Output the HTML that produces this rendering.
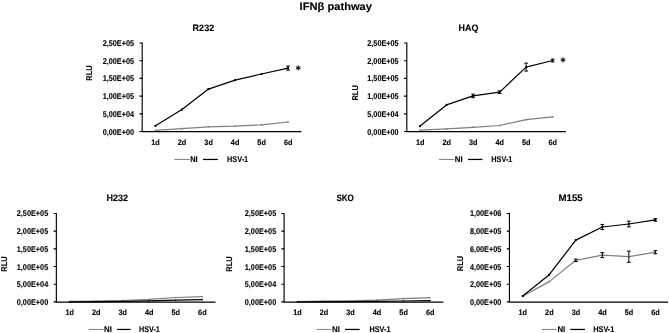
<!DOCTYPE html>
<html><head><meta charset="utf-8"><title>IFNβ pathway</title>
<style>html,body{margin:0;padding:0;background:#fff;overflow:hidden}svg{display:block}text{font-family:"Liberation Sans",sans-serif;stroke:#000;stroke-width:.12px;text-rendering:geometricPrecision}</style>
</head><body>
<svg width="669" height="333" viewBox="0 0 669 333" font-family="Liberation Sans, sans-serif" font-weight="bold" fill="#000">
<path d="M142.2 42.45V131.55" fill="none" stroke="#000" stroke-width="1.15"/>
<path d="M141.63 131.55H301.30" fill="none" stroke="#000" stroke-width="1.15"/>
<text x="134.05" y="46.0" font-size="8.4" text-anchor="end" textLength="31.4" lengthAdjust="spacingAndGlyphs">2,50E+05</text>
<text x="134.05" y="63.71" font-size="8.4" text-anchor="end" textLength="31.4" lengthAdjust="spacingAndGlyphs">2,00E+05</text>
<text x="134.05" y="81.42" font-size="8.4" text-anchor="end" textLength="31.4" lengthAdjust="spacingAndGlyphs">1,50E+05</text>
<text x="134.05" y="99.13" font-size="8.4" text-anchor="end" textLength="31.4" lengthAdjust="spacingAndGlyphs">1,00E+05</text>
<text x="134.05" y="116.84" font-size="8.4" text-anchor="end" textLength="31.4" lengthAdjust="spacingAndGlyphs">5,00E+04</text>
<text x="134.05" y="134.55" font-size="8.4" text-anchor="end" textLength="31.4" lengthAdjust="spacingAndGlyphs">0,00E+00</text>
<path d="M139.45 43.00H142.2M139.45 60.71H142.2M139.45 78.42H142.2M139.45 96.13H142.2M139.45 113.84H142.2M139.45 131.55H142.2" stroke="#000" stroke-width="1.1"/>
<text x="203.4" y="30.5" font-size="9.3" text-anchor="middle" textLength="21.6" lengthAdjust="spacingAndGlyphs">R232</text>
<text transform="translate(92.3,73) rotate(-90)" font-size="8.4" text-anchor="middle" textLength="15.4" lengthAdjust="spacingAndGlyphs">RLU</text>
<text x="155.56" y="145" font-size="7.9" text-anchor="middle" textLength="8.5" lengthAdjust="spacingAndGlyphs">1d</text>
<text x="182.07" y="145" font-size="7.9" text-anchor="middle" textLength="8.5" lengthAdjust="spacingAndGlyphs">2d</text>
<text x="208.59" y="145" font-size="7.9" text-anchor="middle" textLength="8.5" lengthAdjust="spacingAndGlyphs">3d</text>
<text x="235.11" y="145" font-size="7.9" text-anchor="middle" textLength="8.5" lengthAdjust="spacingAndGlyphs">4d</text>
<text x="261.62" y="145" font-size="7.9" text-anchor="middle" textLength="8.5" lengthAdjust="spacingAndGlyphs">5d</text>
<text x="288.14" y="145" font-size="7.9" text-anchor="middle" textLength="8.5" lengthAdjust="spacingAndGlyphs">6d</text>
<polyline points="155.46,130.40 181.97,128.60 208.49,126.80 235.01,126.10 261.52,124.80 288.04,122.00" fill="none" stroke="#7f7f7f" stroke-width="1.2" stroke-linejoin="round"/>
<rect x="154.66" y="129.60" width="1.6" height="1.6" fill="#7f7f7f"/>
<rect x="181.17" y="127.80" width="1.6" height="1.6" fill="#7f7f7f"/>
<rect x="207.69" y="126.00" width="1.6" height="1.6" fill="#7f7f7f"/>
<rect x="234.21" y="125.30" width="1.6" height="1.6" fill="#7f7f7f"/>
<rect x="260.72" y="124.00" width="1.6" height="1.6" fill="#7f7f7f"/>
<rect x="287.24" y="121.20" width="1.6" height="1.6" fill="#7f7f7f"/>
<polyline points="155.46,125.80 181.97,109.50 208.49,89.05 235.01,80.10 261.52,74.00 288.04,68.10" fill="none" stroke="#000" stroke-width="1.25" stroke-linejoin="round"/>
<rect x="154.46" y="124.80" width="2.0" height="2.0" fill="#000"/>
<rect x="180.97" y="108.50" width="2.0" height="2.0" fill="#000"/>
<rect x="207.49" y="88.05" width="2.0" height="2.0" fill="#000"/>
<rect x="234.01" y="79.10" width="2.0" height="2.0" fill="#000"/>
<rect x="260.52" y="73.00" width="2.0" height="2.0" fill="#000"/>
<rect x="287.04" y="67.10" width="2.0" height="2.0" fill="#000"/>
<path d="M288.04 66.05V70.15M286.14 66.05h3.8M286.14 70.15h3.8" stroke="#000" stroke-width="1" fill="none"/>
<text x="298.3" y="72.9" font-size="10" text-anchor="middle" style="font-family:'DejaVu Sans',sans-serif;stroke-width:.4px;font-weight:normal">*</text>
<path d="M174.5 159.45H189.7" stroke="#7f7f7f" stroke-width="1"/>
<path d="M202.9 159.45H217.8" stroke="#000" stroke-width="1.25"/>
<text x="190.25" y="162" font-size="8.3" text-anchor="start" textLength="7.4" lengthAdjust="spacingAndGlyphs">NI</text>
<text x="227.0" y="162" font-size="8.3" text-anchor="start" textLength="21.2" lengthAdjust="spacingAndGlyphs">HSV-1</text>
<path d="M406.8 42.45V131.55" fill="none" stroke="#000" stroke-width="1.15"/>
<path d="M406.23 131.55H565.90" fill="none" stroke="#000" stroke-width="1.15"/>
<text x="398.65" y="46.0" font-size="8.4" text-anchor="end" textLength="31.4" lengthAdjust="spacingAndGlyphs">2,50E+05</text>
<text x="398.65" y="63.71" font-size="8.4" text-anchor="end" textLength="31.4" lengthAdjust="spacingAndGlyphs">2,00E+05</text>
<text x="398.65" y="81.42" font-size="8.4" text-anchor="end" textLength="31.4" lengthAdjust="spacingAndGlyphs">1,50E+05</text>
<text x="398.65" y="99.13" font-size="8.4" text-anchor="end" textLength="31.4" lengthAdjust="spacingAndGlyphs">1,00E+05</text>
<text x="398.65" y="116.84" font-size="8.4" text-anchor="end" textLength="31.4" lengthAdjust="spacingAndGlyphs">5,00E+04</text>
<text x="398.65" y="134.55" font-size="8.4" text-anchor="end" textLength="31.4" lengthAdjust="spacingAndGlyphs">0,00E+00</text>
<path d="M404.05 43.00H406.8M404.05 60.71H406.8M404.05 78.42H406.8M404.05 96.13H406.8M404.05 113.84H406.8M404.05 131.55H406.8" stroke="#000" stroke-width="1.1"/>
<text x="468.5" y="30.5" font-size="9.3" text-anchor="middle" textLength="19.8" lengthAdjust="spacingAndGlyphs">HAQ</text>
<text transform="translate(357.5,92.9) rotate(-90)" font-size="8.4" text-anchor="middle" textLength="15.4" lengthAdjust="spacingAndGlyphs">RLU</text>
<text x="420.16" y="145" font-size="7.9" text-anchor="middle" textLength="8.5" lengthAdjust="spacingAndGlyphs">1d</text>
<text x="446.68" y="145" font-size="7.9" text-anchor="middle" textLength="8.5" lengthAdjust="spacingAndGlyphs">2d</text>
<text x="473.19" y="145" font-size="7.9" text-anchor="middle" textLength="8.5" lengthAdjust="spacingAndGlyphs">3d</text>
<text x="499.71" y="145" font-size="7.9" text-anchor="middle" textLength="8.5" lengthAdjust="spacingAndGlyphs">4d</text>
<text x="526.23" y="145" font-size="7.9" text-anchor="middle" textLength="8.5" lengthAdjust="spacingAndGlyphs">5d</text>
<text x="552.74" y="145" font-size="7.9" text-anchor="middle" textLength="8.5" lengthAdjust="spacingAndGlyphs">6d</text>
<polyline points="420.06,130.10 446.57,128.90 473.09,127.30 499.61,125.50 526.12,119.70 552.64,116.90" fill="none" stroke="#7f7f7f" stroke-width="1.2" stroke-linejoin="round"/>
<rect x="419.26" y="129.30" width="1.6" height="1.6" fill="#7f7f7f"/>
<rect x="445.77" y="128.10" width="1.6" height="1.6" fill="#7f7f7f"/>
<rect x="472.29" y="126.50" width="1.6" height="1.6" fill="#7f7f7f"/>
<rect x="498.81" y="124.70" width="1.6" height="1.6" fill="#7f7f7f"/>
<rect x="525.33" y="118.90" width="1.6" height="1.6" fill="#7f7f7f"/>
<rect x="551.84" y="116.10" width="1.6" height="1.6" fill="#7f7f7f"/>
<polyline points="420.06,126.10 446.57,104.90 473.09,95.90 499.61,92.10 526.12,67.10 552.64,60.50" fill="none" stroke="#000" stroke-width="1.25" stroke-linejoin="round"/>
<rect x="419.06" y="125.10" width="2.0" height="2.0" fill="#000"/>
<rect x="445.57" y="103.90" width="2.0" height="2.0" fill="#000"/>
<rect x="472.09" y="94.90" width="2.0" height="2.0" fill="#000"/>
<rect x="498.61" y="91.10" width="2.0" height="2.0" fill="#000"/>
<rect x="525.12" y="66.10" width="2.0" height="2.0" fill="#000"/>
<rect x="551.64" y="59.50" width="2.0" height="2.0" fill="#000"/>
<path d="M473.09 94.13V97.67M471.19 94.13h3.8M471.19 97.67h3.8M499.61 90.79V93.41M497.71 90.79h3.8M497.71 93.41h3.8M526.12 63.13V71.07M524.23 63.13h3.8M524.23 71.07h3.8M552.64 59.08V61.92M550.74 59.08h3.8M550.74 61.92h3.8" stroke="#000" stroke-width="1" fill="none"/>
<text x="562.9" y="65.4" font-size="10" text-anchor="middle" style="font-family:'DejaVu Sans',sans-serif;stroke-width:.4px;font-weight:normal">*</text>
<path d="M439 159.45H454.3" stroke="#7f7f7f" stroke-width="1"/>
<path d="M468.1 159.45H482.4" stroke="#000" stroke-width="1.25"/>
<text x="454.85" y="162" font-size="8.3" text-anchor="start" textLength="7.8" lengthAdjust="spacingAndGlyphs">NI</text>
<text x="491.3" y="162" font-size="8.3" text-anchor="start" textLength="21.1" lengthAdjust="spacingAndGlyphs">HSV-1</text>
<path d="M56.35 212.89999999999998V302.0" fill="none" stroke="#000" stroke-width="1.15"/>
<path d="M55.78 302.0H215.50" fill="none" stroke="#000" stroke-width="1.25"/>
<text x="48.2" y="216.45" font-size="8.4" text-anchor="end" textLength="31.4" lengthAdjust="spacingAndGlyphs">2,50E+05</text>
<text x="48.2" y="234.14" font-size="8.4" text-anchor="end" textLength="31.4" lengthAdjust="spacingAndGlyphs">2,00E+05</text>
<text x="48.2" y="251.83" font-size="8.4" text-anchor="end" textLength="31.4" lengthAdjust="spacingAndGlyphs">1,50E+05</text>
<text x="48.2" y="269.52" font-size="8.4" text-anchor="end" textLength="31.4" lengthAdjust="spacingAndGlyphs">1,00E+05</text>
<text x="48.2" y="287.21" font-size="8.4" text-anchor="end" textLength="31.4" lengthAdjust="spacingAndGlyphs">5,00E+04</text>
<text x="48.2" y="304.9" font-size="8.4" text-anchor="end" textLength="31.4" lengthAdjust="spacingAndGlyphs">0,00E+00</text>
<path d="M53.60 213.45H56.35M53.60 231.14H56.35M53.60 248.83H56.35M53.60 266.52H56.35M53.60 284.21H56.35M53.60 301.90H56.35" stroke="#000" stroke-width="1.1"/>
<text x="117.2" y="200.95" font-size="9.3" text-anchor="middle" textLength="21.6" lengthAdjust="spacingAndGlyphs">H232</text>
<text transform="translate(7.2,264) rotate(-90)" font-size="8.4" text-anchor="middle" textLength="15.4" lengthAdjust="spacingAndGlyphs">RLU</text>
<text x="69.71" y="315" font-size="7.9" text-anchor="middle" textLength="8.5" lengthAdjust="spacingAndGlyphs">1d</text>
<text x="96.24" y="315" font-size="7.9" text-anchor="middle" textLength="8.5" lengthAdjust="spacingAndGlyphs">2d</text>
<text x="122.76" y="315" font-size="7.9" text-anchor="middle" textLength="8.5" lengthAdjust="spacingAndGlyphs">3d</text>
<text x="149.29" y="315" font-size="7.9" text-anchor="middle" textLength="8.5" lengthAdjust="spacingAndGlyphs">4d</text>
<text x="175.81" y="315" font-size="7.9" text-anchor="middle" textLength="8.5" lengthAdjust="spacingAndGlyphs">5d</text>
<text x="202.34" y="315" font-size="7.9" text-anchor="middle" textLength="8.5" lengthAdjust="spacingAndGlyphs">6d</text>
<polyline points="69.61,301.40 96.14,301.00 122.66,300.50 149.19,299.40 175.71,297.50 202.24,296.70" fill="none" stroke="#7f7f7f" stroke-width="1.2" stroke-linejoin="round"/>
<rect x="68.96" y="300.75" width="1.3" height="1.3" fill="#7f7f7f"/>
<rect x="95.49" y="300.35" width="1.3" height="1.3" fill="#7f7f7f"/>
<rect x="122.01" y="299.85" width="1.3" height="1.3" fill="#7f7f7f"/>
<rect x="148.54" y="298.75" width="1.3" height="1.3" fill="#7f7f7f"/>
<rect x="175.06" y="296.85" width="1.3" height="1.3" fill="#7f7f7f"/>
<rect x="201.59" y="296.05" width="1.3" height="1.3" fill="#7f7f7f"/>
<polyline points="69.61,301.80 96.14,301.60 122.66,301.30 149.19,300.80 175.71,300.20 202.24,299.60" fill="none" stroke="#000" stroke-width="1.25" stroke-linejoin="round"/>
<rect x="68.96" y="301.15" width="1.3" height="1.3" fill="#000"/>
<rect x="95.49" y="300.95" width="1.3" height="1.3" fill="#000"/>
<rect x="122.01" y="300.65" width="1.3" height="1.3" fill="#000"/>
<rect x="148.54" y="300.15" width="1.3" height="1.3" fill="#000"/>
<rect x="175.06" y="299.55" width="1.3" height="1.3" fill="#000"/>
<rect x="201.59" y="298.95" width="1.3" height="1.3" fill="#000"/>
<path d="M88.8 329.45H103.5" stroke="#7f7f7f" stroke-width="1"/>
<path d="M117.1 329.45H130.7" stroke="#000" stroke-width="1.25"/>
<text x="104.05" y="332" font-size="8.3" text-anchor="start" textLength="7.9" lengthAdjust="spacingAndGlyphs">NI</text>
<text x="139.0" y="332" font-size="8.3" text-anchor="start" textLength="20.8" lengthAdjust="spacingAndGlyphs">HSV-1</text>
<path d="M284.1 212.89999999999998V302.0" fill="none" stroke="#000" stroke-width="1.15"/>
<path d="M283.53000000000003 302.0H443.30" fill="none" stroke="#000" stroke-width="1.25"/>
<text x="276.2" y="216.45" font-size="8.4" text-anchor="end" textLength="31.4" lengthAdjust="spacingAndGlyphs">2,50E+05</text>
<text x="276.2" y="234.14" font-size="8.4" text-anchor="end" textLength="31.4" lengthAdjust="spacingAndGlyphs">2,00E+05</text>
<text x="276.2" y="251.83" font-size="8.4" text-anchor="end" textLength="31.4" lengthAdjust="spacingAndGlyphs">1,50E+05</text>
<text x="276.2" y="269.52" font-size="8.4" text-anchor="end" textLength="31.4" lengthAdjust="spacingAndGlyphs">1,00E+05</text>
<text x="276.2" y="287.21" font-size="8.4" text-anchor="end" textLength="31.4" lengthAdjust="spacingAndGlyphs">5,00E+04</text>
<text x="276.2" y="304.9" font-size="8.4" text-anchor="end" textLength="31.4" lengthAdjust="spacingAndGlyphs">0,00E+00</text>
<path d="M281.35 213.45H284.1M281.35 231.14H284.1M281.35 248.83H284.1M281.35 266.52H284.1M281.35 284.21H284.1M281.35 301.90H284.1" stroke="#000" stroke-width="1.1"/>
<text x="345.1" y="200.95" font-size="9.3" text-anchor="middle" textLength="17.400000000000002" lengthAdjust="spacingAndGlyphs">SKO</text>
<text transform="translate(232.1,264) rotate(-90)" font-size="8.4" text-anchor="middle" textLength="15.4" lengthAdjust="spacingAndGlyphs">RLU</text>
<text x="297.47" y="315" font-size="7.9" text-anchor="middle" textLength="8.5" lengthAdjust="spacingAndGlyphs">1d</text>
<text x="324.0" y="315" font-size="7.9" text-anchor="middle" textLength="8.5" lengthAdjust="spacingAndGlyphs">2d</text>
<text x="350.53" y="315" font-size="7.9" text-anchor="middle" textLength="8.5" lengthAdjust="spacingAndGlyphs">3d</text>
<text x="377.07" y="315" font-size="7.9" text-anchor="middle" textLength="8.5" lengthAdjust="spacingAndGlyphs">4d</text>
<text x="403.6" y="315" font-size="7.9" text-anchor="middle" textLength="8.5" lengthAdjust="spacingAndGlyphs">5d</text>
<text x="430.13" y="315" font-size="7.9" text-anchor="middle" textLength="8.5" lengthAdjust="spacingAndGlyphs">6d</text>
<polyline points="297.37,301.50 323.90,301.20 350.43,300.80 376.97,300.10 403.50,298.60 430.03,297.60" fill="none" stroke="#7f7f7f" stroke-width="1.2" stroke-linejoin="round"/>
<rect x="296.72" y="300.85" width="1.3" height="1.3" fill="#7f7f7f"/>
<rect x="323.25" y="300.55" width="1.3" height="1.3" fill="#7f7f7f"/>
<rect x="349.78" y="300.15" width="1.3" height="1.3" fill="#7f7f7f"/>
<rect x="376.32" y="299.45" width="1.3" height="1.3" fill="#7f7f7f"/>
<rect x="402.85" y="297.95" width="1.3" height="1.3" fill="#7f7f7f"/>
<rect x="429.38" y="296.95" width="1.3" height="1.3" fill="#7f7f7f"/>
<polyline points="297.37,301.80 323.90,301.70 350.43,301.60 376.97,301.40 403.50,301.00 430.03,300.60" fill="none" stroke="#000" stroke-width="1.25" stroke-linejoin="round"/>
<rect x="296.72" y="301.15" width="1.3" height="1.3" fill="#000"/>
<rect x="323.25" y="301.05" width="1.3" height="1.3" fill="#000"/>
<rect x="349.78" y="300.95" width="1.3" height="1.3" fill="#000"/>
<rect x="376.32" y="300.75" width="1.3" height="1.3" fill="#000"/>
<rect x="402.85" y="300.35" width="1.3" height="1.3" fill="#000"/>
<rect x="429.38" y="299.95" width="1.3" height="1.3" fill="#000"/>
<path d="M316.8 329.45H331.2" stroke="#7f7f7f" stroke-width="1"/>
<path d="M345.1 329.45H359.7" stroke="#000" stroke-width="1.25"/>
<text x="332.05" y="332" font-size="8.3" text-anchor="start" textLength="7.9" lengthAdjust="spacingAndGlyphs">NI</text>
<text x="369.4" y="332" font-size="8.3" text-anchor="start" textLength="21.2" lengthAdjust="spacingAndGlyphs">HSV-1</text>
<path d="M509.45 212.89999999999998V302.0" fill="none" stroke="#000" stroke-width="1.15"/>
<path d="M508.88 302.0H668.00" fill="none" stroke="#000" stroke-width="1.25"/>
<text x="501.3" y="216.45" font-size="8.4" text-anchor="end" textLength="31.4" lengthAdjust="spacingAndGlyphs">1,00E+06</text>
<text x="501.3" y="234.14" font-size="8.4" text-anchor="end" textLength="31.4" lengthAdjust="spacingAndGlyphs">8,00E+05</text>
<text x="501.3" y="251.83" font-size="8.4" text-anchor="end" textLength="31.4" lengthAdjust="spacingAndGlyphs">6,00E+05</text>
<text x="501.3" y="269.52" font-size="8.4" text-anchor="end" textLength="31.4" lengthAdjust="spacingAndGlyphs">4,00E+05</text>
<text x="501.3" y="287.21" font-size="8.4" text-anchor="end" textLength="31.4" lengthAdjust="spacingAndGlyphs">2,00E+05</text>
<text x="501.3" y="304.9" font-size="8.4" text-anchor="end" textLength="31.4" lengthAdjust="spacingAndGlyphs">0,00E+00</text>
<path d="M506.70 213.45H509.45M506.70 231.14H509.45M506.70 248.83H509.45M506.70 266.52H509.45M506.70 284.21H509.45M506.70 301.90H509.45" stroke="#000" stroke-width="1.1"/>
<text x="570.6" y="200.95" font-size="9.3" text-anchor="middle" textLength="24.200000000000003" lengthAdjust="spacingAndGlyphs">M155</text>
<text transform="translate(462.6,263.5) rotate(-90)" font-size="8.4" text-anchor="middle" textLength="15.4" lengthAdjust="spacingAndGlyphs">RLU</text>
<text x="522.82" y="315" font-size="7.9" text-anchor="middle" textLength="8.5" lengthAdjust="spacingAndGlyphs">1d</text>
<text x="549.35" y="315" font-size="7.9" text-anchor="middle" textLength="8.5" lengthAdjust="spacingAndGlyphs">2d</text>
<text x="575.88" y="315" font-size="7.9" text-anchor="middle" textLength="8.5" lengthAdjust="spacingAndGlyphs">3d</text>
<text x="602.42" y="315" font-size="7.9" text-anchor="middle" textLength="8.5" lengthAdjust="spacingAndGlyphs">4d</text>
<text x="628.95" y="315" font-size="7.9" text-anchor="middle" textLength="8.5" lengthAdjust="spacingAndGlyphs">5d</text>
<text x="655.48" y="315" font-size="7.9" text-anchor="middle" textLength="8.5" lengthAdjust="spacingAndGlyphs">6d</text>
<polyline points="522.72,296.20 549.25,281.60 575.78,260.30 602.32,255.10 628.85,256.70 655.38,252.20" fill="none" stroke="#7f7f7f" stroke-width="1.2" stroke-linejoin="round"/>
<rect x="521.92" y="295.40" width="1.6" height="1.6" fill="#7f7f7f"/>
<rect x="548.45" y="280.80" width="1.6" height="1.6" fill="#7f7f7f"/>
<rect x="574.98" y="259.50" width="1.6" height="1.6" fill="#7f7f7f"/>
<rect x="601.52" y="254.30" width="1.6" height="1.6" fill="#7f7f7f"/>
<rect x="628.05" y="255.90" width="1.6" height="1.6" fill="#7f7f7f"/>
<rect x="654.58" y="251.40" width="1.6" height="1.6" fill="#7f7f7f"/>
<path d="M575.78 259.06V261.54M573.88 259.06h3.8M573.88 261.54h3.8M602.32 252.62V257.58M600.42 252.62h3.8M600.42 257.58h3.8M628.85 251.13V262.27M626.95 251.13h3.8M626.95 262.27h3.8M655.38 250.61V253.79M653.48 250.61h3.8M653.48 253.79h3.8" stroke="#000" stroke-width="1" fill="none"/>
<polyline points="522.72,296.00 549.25,274.70 575.78,240.10 602.32,227.00 628.85,224.00 655.38,219.90" fill="none" stroke="#000" stroke-width="1.25" stroke-linejoin="round"/>
<rect x="521.72" y="295.00" width="2.0" height="2.0" fill="#000"/>
<rect x="548.25" y="273.70" width="2.0" height="2.0" fill="#000"/>
<rect x="574.78" y="239.10" width="2.0" height="2.0" fill="#000"/>
<rect x="601.32" y="226.00" width="2.0" height="2.0" fill="#000"/>
<rect x="627.85" y="223.00" width="2.0" height="2.0" fill="#000"/>
<rect x="654.38" y="218.90" width="2.0" height="2.0" fill="#000"/>
<path d="M602.32 224.43V229.57M600.42 224.43h3.8M600.42 229.57h3.8M628.85 221.17V226.83M626.95 221.17h3.8M626.95 226.83h3.8M655.38 218.66V221.14M653.48 218.66h3.8M653.48 221.14h3.8" stroke="#000" stroke-width="1" fill="none"/>
<path d="M541.8 329.45H556.5" stroke="#7f7f7f" stroke-width="1"/>
<path d="M570.3 329.45H584.9" stroke="#000" stroke-width="1.25"/>
<text x="557.45" y="332" font-size="8.3" text-anchor="start" textLength="7.8" lengthAdjust="spacingAndGlyphs">NI</text>
<text x="593.2" y="332" font-size="8.3" text-anchor="start" textLength="21.2" lengthAdjust="spacingAndGlyphs">HSV-1</text>
<text x="335.8" y="9.5" font-size="10.8" text-anchor="middle" textLength="72.4" lengthAdjust="spacingAndGlyphs" stroke="none">IFNβ pathway</text>
</svg>
</body></html>
